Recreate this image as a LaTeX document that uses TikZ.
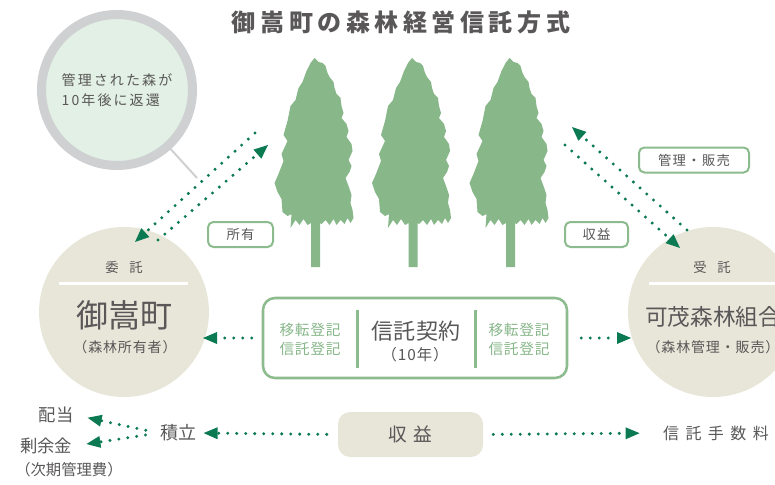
\documentclass[tikz,border=0pt]{standalone}
\usepackage{fontspec}
\setmainfont{Noto Sans CJK JP}
\usetikzlibrary{arrows.meta}

\definecolor{inkgray}{HTML}{595757}
\definecolor{leafgreen}{HTML}{88B78A}
\definecolor{boxgreen}{HTML}{8CBB8E}
\definecolor{arrowgreen}{HTML}{0B7A52}
\definecolor{beige}{HTML}{E8E6D9}
\definecolor{notegreen}{HTML}{E2F0E5}
\definecolor{ringgray}{HTML}{CFD0D2}

\tikzstyle{txt}=[text=inkgray, inner sep=1pt]
\tikzstyle{tag}=[draw=boxgreen, line width=1.5pt, rounded corners=4pt,
                 fill=white, text=inkgray, minimum height=18.75pt,
                 font=\fontsize{10}{12}\selectfont\addfontfeatures{LetterSpace=10}]
\tikzstyle{disc}=[circle, fill=beige, minimum size=127.5pt, inner sep=0pt]
\tikzstyle{role}=[txt, font=\fontsize{10}{12}\selectfont\addfontfeatures{LetterSpace=80}]
\tikzstyle{sub}=[txt, font=\fontsize{10.5}{12}\selectfont\addfontfeatures{LetterSpace=6}]
\tikzstyle{register}=[text=leafgreen, inner sep=1pt, align=center,
                      font=\fontsize{11}{14.25}\selectfont\addfontfeatures{LetterSpace=5}]
\tikzstyle{dotarrow}=[draw=arrowgreen, line width=2.5pt, line cap=round,
                      dash pattern=on 0pt off 6.75pt,
                      -{Triangle[length=10.5pt, width=9pt, line width=0pt]}]

\begin{document}
\begin{tikzpicture}[x=0.75pt, y=-0.75pt]
  \useasboundingbox (0,0) rectangle (775,485);
  \clip (0,0) rectangle (775,485);

  \node (title) [txt, font=\fontsize{18}{20}\selectfont\bfseries\addfontfeatures{LetterSpace=19}]
    at (401,22) {御嵩町の森林経営信託方式};

  % callout bubble
  \node (note) [circle, draw=ringgray, line width=6.75pt, fill=notegreen,
                minimum size=113.25pt, inner sep=0pt, align=left, text=inkgray,
                font=\fontsize{10.5}{15}\selectfont\addfontfeatures{LetterSpace=15}]
    at (117,90) {管理された森が\\10年後に返還};
  \coordinate (pointer) at (197,178);
  \draw[ringgray, line width=1.5pt] (note) -- (pointer);

  % three cedars
  \foreach \cx in {315.5,413,510.5}
    \fill[leafgreen, shift={(\cx,58)}]
      (-1,0) -- (3,4) -- (7,5) -- (10,8) -- (12,15) -- (14,19) -- (18,24)
      -- (19,30) -- (21,36) -- (25,40) -- (26,48) -- (28,55) -- (26,60)
      -- (31,66) -- (33,73) -- (31,79) -- (36,86) -- (37,93) -- (33,102)
      -- (36,108) -- (34,114) -- (30,120) -- (33,128) -- (36,137) -- (35,145)
      -- (37,152) -- (38,160) -- (35,165) -- (32,160) -- (29,166) -- (25,162)
      -- (21,167) -- (18,161) -- (14,167) -- (10,162) -- (6,166) -- (4.5,165)
      -- (4.5,209) -- (-4.5,209) -- (-4.5,165) -- (-8,167) -- (-12,161)
      -- (-16,167) -- (-20,162) -- (-25,170) -- (-24,156) -- (-28,158)
      -- (-33,154) -- (-34,141) -- (-38,134) -- (-41,125) -- (-37,116)
      -- (-32,103) -- (-34,96) -- (-28,83) -- (-32,77) -- (-28,63) -- (-25,48)
      -- (-20,42) -- (-17,30) -- (-13,24) -- (-9,13) -- (-5,5) -- cycle;

  \node (own) [tag, minimum width=48.75pt] at (240.5,234.5) {所有};
  \node (yield) [tag, minimum width=47.25pt] at (596.5,234.5) {収益};
  \node (service) [tag, minimum width=82.5pt] at (694,160) {管理・販売};

  % owner and trustee
  \node (owner) [disc] at (124,312) {};
  \node (trustee) [disc] at (713,312) {};
  \draw[white, line width=2.25pt] (59,283) -- (188,283);
  \draw[white, line width=2.25pt] (649,283) -- (777,283);

  \node (ownerrole) [role] at (124,267) {委託};
  \node (ownername) [txt, font=\fontsize{24}{26}\selectfont] at (124,315) {御嵩町};
  \node (ownersub) [sub] at (125,347) {（森林所有者）};

  \node (trusteerole) [role] at (712,267) {受託};
  \node (trusteename) [txt, font=\fontsize{17}{19}\selectfont] at (713,317) {可茂森林組合};
  \node (trusteesub) [sub] at (713,347) {（森林管理・販売）};

  % contract
  \node (contract) [draw=boxgreen, line width=1.9pt, rounded corners=9pt, fill=white,
                    minimum width=228pt, minimum height=60pt] at (415,338) {};
  \draw[boxgreen, line width=2.25pt] (357,310) -- (357,368);
  \draw[boxgreen, line width=2.25pt] (475,310) -- (475,368);
  \node (regleft) [register] at (310,339) {移転登記\\信託登記};
  \node (regright) [register] at (519,339) {移転登記\\信託登記};
  \node (deed) [txt, font=\fontsize{16.5}{18}\selectfont\addfontfeatures{LetterSpace=3}]
    at (416,331) {信託契約};
  \node (term) [txt, font=\fontsize{11.5}{13}\selectfont\addfontfeatures{LetterSpace=6}]
    at (415,355) {（10年）};

  % income split
  \node (income) [fill=beige, rounded corners=9pt, minimum width=108.75pt,
                  minimum height=33.75pt, text=inkgray,
                  font=\fontsize{14}{16}\selectfont\addfontfeatures{LetterSpace=35}]
    at (410.5,434.5) {収益};
  \node (reserve) [txt, font=\fontsize{13.5}{15}\selectfont] at (178,433) {積立};
  \node (dividend) [txt, font=\fontsize{13}{15}\selectfont] at (56,415) {配当};
  \node (surplus) [txt, font=\fontsize{13}{15}\selectfont] at (46,446) {剰余金};
  \node (nextcost) [txt, font=\fontsize{11.5}{13}\selectfont] at (69,470) {（次期管理費）};
  \node (fee) [txt, font=\fontsize{12}{14}\selectfont\addfontfeatures{LetterSpace=40}]
    at (716,433) {信託手数料};

  % arrows
  \coordinate (returnfrom) at (255,133);
  \coordinate (returnto) at (135,242);
  \coordinate (ownfrom) at (158,240);
  \coordinate (ownto) at (268,145);
  \coordinate (salefrom) at (687,230);
  \coordinate (saleto) at (572,127);
  \coordinate (yieldfrom) at (565,145);
  \coordinate (yieldto) at (680,248);
  \coordinate (ownerside) at (203,338);
  \coordinate (trusteeside) at (631,338);

  \draw[dotarrow] (returnfrom) -- (returnto);
  \draw[dotarrow] (ownfrom) -- (ownto);
  \draw[dotarrow] (salefrom) -- (saleto);
  \draw[dotarrow] (yieldfrom) -- (yieldto);

  \draw[dotarrow, shorten <=7.5pt] (contract.west) -- (ownerside);
  \draw[dotarrow, shorten <=9.75pt] (contract.east) -- (trusteeside);

  \draw[dotarrow, shorten <=8.25pt, shorten >=4.5pt] (income.west) -- (reserve.east);
  \draw[dotarrow, shorten <=7.5pt, shorten >=16.5pt] (income.east) -- (fee.west);
  \draw[dotarrow, shorten <=9.75pt, shorten >=9.75pt] (reserve.west) -- (dividend.east);
  \draw[dotarrow, shorten <=9.75pt, shorten >=9.75pt] (reserve.west) -- (surplus.east);
\end{tikzpicture}
\end{document}
